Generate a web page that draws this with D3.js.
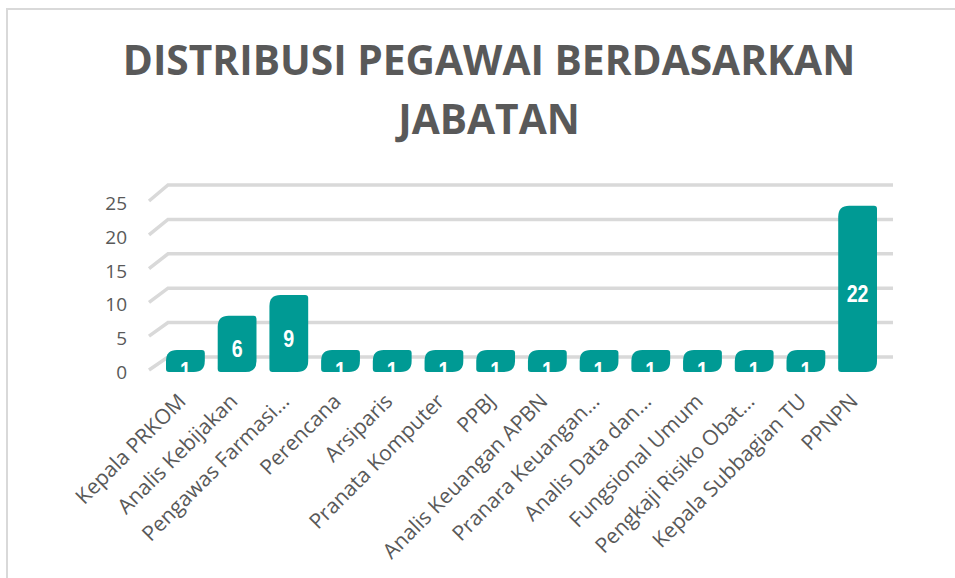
<!DOCTYPE html>
<html lang="en">
<head>
    <meta charset="UTF-8">
    <title>Distribusi Pegawai Berdasarkan Jabatan</title>
    <style>
        body {
            margin: 0;
            padding: 0;
            background-color: #fff;
        }

        svg text {
            font-family: "Open Sans", Arial, sans-serif;
        }

        .title {
            font-size: 40.7px;
            font-weight: bold;
            fill: #595959;
        }

        .tick-label {
            font-size: 19px;
            fill: #595959;
        }

        .cat-label {
            font-size: 21px;
            fill: #595959;
        }

        .bar-label {
            font-family: "Liberation Sans", Arial, sans-serif;
            font-weight: bold;
            font-size: 24px;
            fill: #fff;
        }
    </style>
</head>
<body>

<svg width="955" height="578" id="chart"></svg>

<script src="https://d3js.org/d3.v7.min.js"></script>
<script>
    const categories = [
        "Kepala PRKOM", "Analis Kebijakan", "Pengawas Farmasi\u2026", "Perencana",
        "Arsiparis", "Pranata Komputer", "PPBJ", "Analis Keuangan APBN",
        "Pranara Keuangan\u2026", "Analis Data dan\u2026", "Fungsional Umum",
        "Pengkaji Risiko Obat\u2026", "Kepala Subbagian TU", "PPNPN"
    ];
    const values = [1, 6, 9, 1, 1, 1, 1, 1, 1, 1, 1, 1, 1, 22];
    const yTicks = [0, 5, 10, 15, 20, 25];
    const titleLines = ["DISTRIBUSI PEGAWAI BERDASARKAN", "JABATAN"];

    const svg = d3.select("#chart");

    // chart area border (only left and top show inside the window)
    svg.append("rect")
        .attr("x", 7).attr("y", 9)
        .attr("width", 1000).attr("height", 700)
        .attr("fill", "none")
        .attr("stroke", "#d9d9d9")
        .attr("stroke-width", 2);

    // title
    svg.selectAll(".title")
        .data(titleLines)
        .enter().append("text")
        .attr("class", "title")
        .attr("x", 489)
        .attr("y", (d, i) => i === 0 ? 75 : 134)
        .attr("text-anchor", "middle")
        .text(d => d);

    // scales: front edge of the floor and back wall (3D look)
    const yFront = d3.scaleLinear().domain([0, 25]).range([370, 201]);
    const yBack = d3.scaleLinear().domain([0, 25]).range([357, 185]);
    const xFront = 149, xBack = 168, xEnd = 893;
    const base = yFront(0) + 2;

    const x = d3.scaleBand()
        .domain(categories)
        .range([166, 877])
        .paddingInner(0.25)
        .paddingOuter(0);

    // gridlines
    svg.append("g").selectAll("path")
        .data(yTicks)
        .enter().append("path")
        .attr("d", t => `M${xFront},${yFront(t)}L${xBack},${yBack(t)}L${xEnd},${yBack(t)}`)
        .attr("fill", "none")
        .attr("stroke", "#d9d9d9")
        .attr("stroke-width", 3.5);

    // y tick labels
    svg.append("g").selectAll("text")
        .data(yTicks)
        .enter().append("text")
        .attr("class", "tick-label")
        .attr("x", 127)
        .attr("y", t => yFront(t) + 2)
        .attr("text-anchor", "end")
        .attr("dominant-baseline", "central")
        .text(t => t);

    // bar shape: big rounding top-left and bottom-right, small on the others
    function barPath(x0, y0, w, h) {
        const big = Math.min(11, h / 2, w / 2), small = Math.min(3, h / 2);
        const x1 = x0 + w, y1 = y0 + h;
        return `M${x0},${y0 + big}` +
            `Q${x0},${y0} ${x0 + big},${y0}` +
            `L${x1 - small},${y0}` +
            `Q${x1},${y0} ${x1},${y0 + small}` +
            `L${x1},${y1 - big}` +
            `Q${x1},${y1} ${x1 - big},${y1}` +
            `L${x0 + small},${y1}` +
            `Q${x0},${y1} ${x0},${y1 - small}Z`;
    }

    const data = categories.map((c, i) => ({cat: c, value: values[i]}));

    svg.append("g").selectAll("path")
        .data(data)
        .enter().append("path")
        .attr("d", d => barPath(x(d.cat), yBack(d.value), x.bandwidth(), base - yBack(d.value)))
        .attr("fill", "#009a94");

    // labels inside bars, cut off at the floor
    svg.append("clipPath").attr("id", "floorClip")
        .append("rect")
        .attr("x", 0).attr("y", 0)
        .attr("width", 955).attr("height", base);

    svg.append("g")
        .attr("clip-path", "url(#floorClip)")
        .selectAll("text")
        .data(data)
        .enter().append("text")
        .attr("class", "bar-label")
        .attr("text-anchor", "middle")
        .attr("dominant-baseline", "central")
        .attr("transform", d => {
            const cx = x(d.cat) + x.bandwidth() / 2;
            const cy = (yBack(d.value) + base) / 2 + (d.value < 3 ? 10 : 5);
            return `translate(${cx},${cy}) scale(0.82,1)`;
        })
        .text(d => d.value);

    // rotated category labels
    svg.append("g").selectAll("text")
        .data(categories)
        .enter().append("text")
        .attr("class", "cat-label")
        .attr("text-anchor", "end")
        .attr("dominant-baseline", "central")
        .attr("transform", d => `translate(${x(d) + x.bandwidth() / 2 - 4},397) rotate(-45)`)
        .text(d => d);
</script>

</body>
</html>
